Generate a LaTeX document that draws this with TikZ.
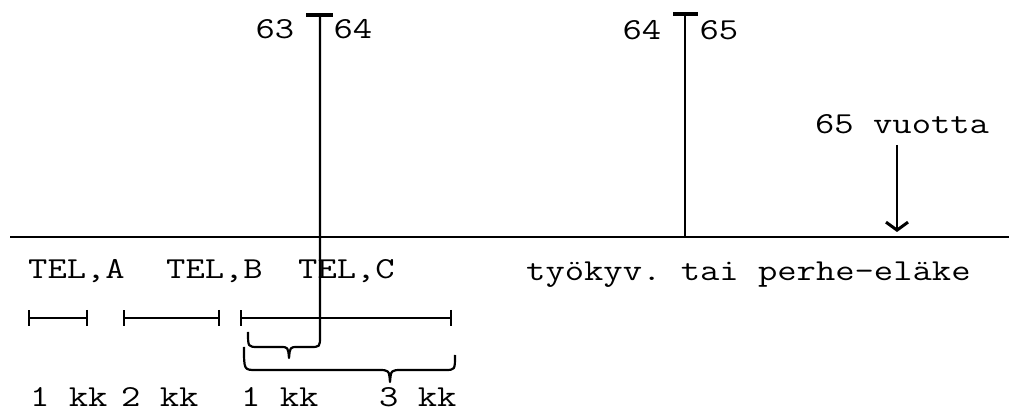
\documentclass[tikz,border=0pt]{standalone}
\usepackage{fontspec}
\setmonofont{Latin Modern Mono}[FakeStretch=1.23]
\usetikzlibrary{arrows.meta}
\begin{document}
\begin{tikzpicture}[x=1pt,y=-1pt,
  lbl/.style={inner sep=0pt,font=\ttfamily\fontsize{30.5}{36}\selectfont},
  lblw/.style={lbl,anchor=base west},
  lblc/.style={lbl,anchor=base},
  axis/.style={line width=2.5pt},
  thin vert/.style={line width=1.4pt},
  brace/.style={line width=2.2pt,line join=round},
  tbar/.style={line width=3.5pt},
  interval/.style={line width=2pt,{Bar[width=16pt,line width=2pt]}-{Bar[width=16pt,line width=2pt]}},
  pointer/.style={line width=2pt,-{Straight Barb[length=8pt,width=22pt,line width=3pt]}}]
\useasboundingbox (0,0) rectangle (1017,411);
% axis
\coordinate (axL) at (10,237);
\coordinate (axR) at (1009,237);
\draw[axis] (axL) -- (axR);
% first marker (63/64) running down into the small brace
\coordinate (t1) at (320,15);
\coordinate (t1l) at (306,15);
\coordinate (t1r) at (333,15);
\draw[tbar] (t1l) -- (t1r);
\draw[brace] (t1) -- (320,336) .. controls (320,347) .. (310,347) -- (298,347)
  .. controls (290,347) .. (289,358) .. controls (288,347) .. (280,347)
  -- (258,347) .. controls (248,347) .. (248,332);
\node[lblc] (n63) at (275,39) {63};
\node[lblc] (n64a) at (353,39) {64};
% second marker (64/65)
\coordinate (t2) at (685,14);
\coordinate (t2b) at (685,237);
\coordinate (t2l) at (673,14);
\coordinate (t2r) at (698,14);
\draw[thin vert] (t2) -- (t2b);
\draw[tbar] (t2l) -- (t2r);
\node[lblc] (n64b) at (642,40) {64};
\node[lblc] (n65) at (719,40) {65};
% 65 vuotta arrow
\node[lblw] (v65) at (815,134) {65 vuotta};
\coordinate (arS) at (897,145);
\coordinate (arE) at (897,232);
\draw[pointer] (arS) -- (arE);
% labels under axis
\node[lblw] (telA) at (28,279) {TEL,A};
\node[lblw] (telB) at (166,279) {TEL,B};
\node[lblw] (telC) at (298,279) {TEL,C};
\node[lblw] (tyo) at (526,281) {työkyv. tai perhe-eläke};
% intervals
\coordinate (iA1) at (28,318); \coordinate (iA2) at (88,318);
\coordinate (iB1) at (123,318); \coordinate (iB2) at (220,318);
\coordinate (iC1) at (240,318); \coordinate (iC2) at (452,318);
\draw[interval] (iA1) -- (iA2);
\draw[interval] (iB1) -- (iB2);
\draw[interval] (iC1) -- (iC2);
% large brace
\draw[brace] (244,347) .. controls (244,370) .. (256,370) -- (378,370)
  .. controls (389,370) .. (390,382) .. controls (391,370) .. (402,370)
  -- (445,370) .. controls (455,370) .. (455,355);
% bottom labels
\node[lblw] (k1) at (30,406) {1 kk};
\node[lblw] (k2) at (121,406) {2 kk};
\node[lblw] (k3) at (241,406) {1 kk};
\node[lblw] (k4) at (379,406) {3 kk};
\end{tikzpicture}
\end{document}
